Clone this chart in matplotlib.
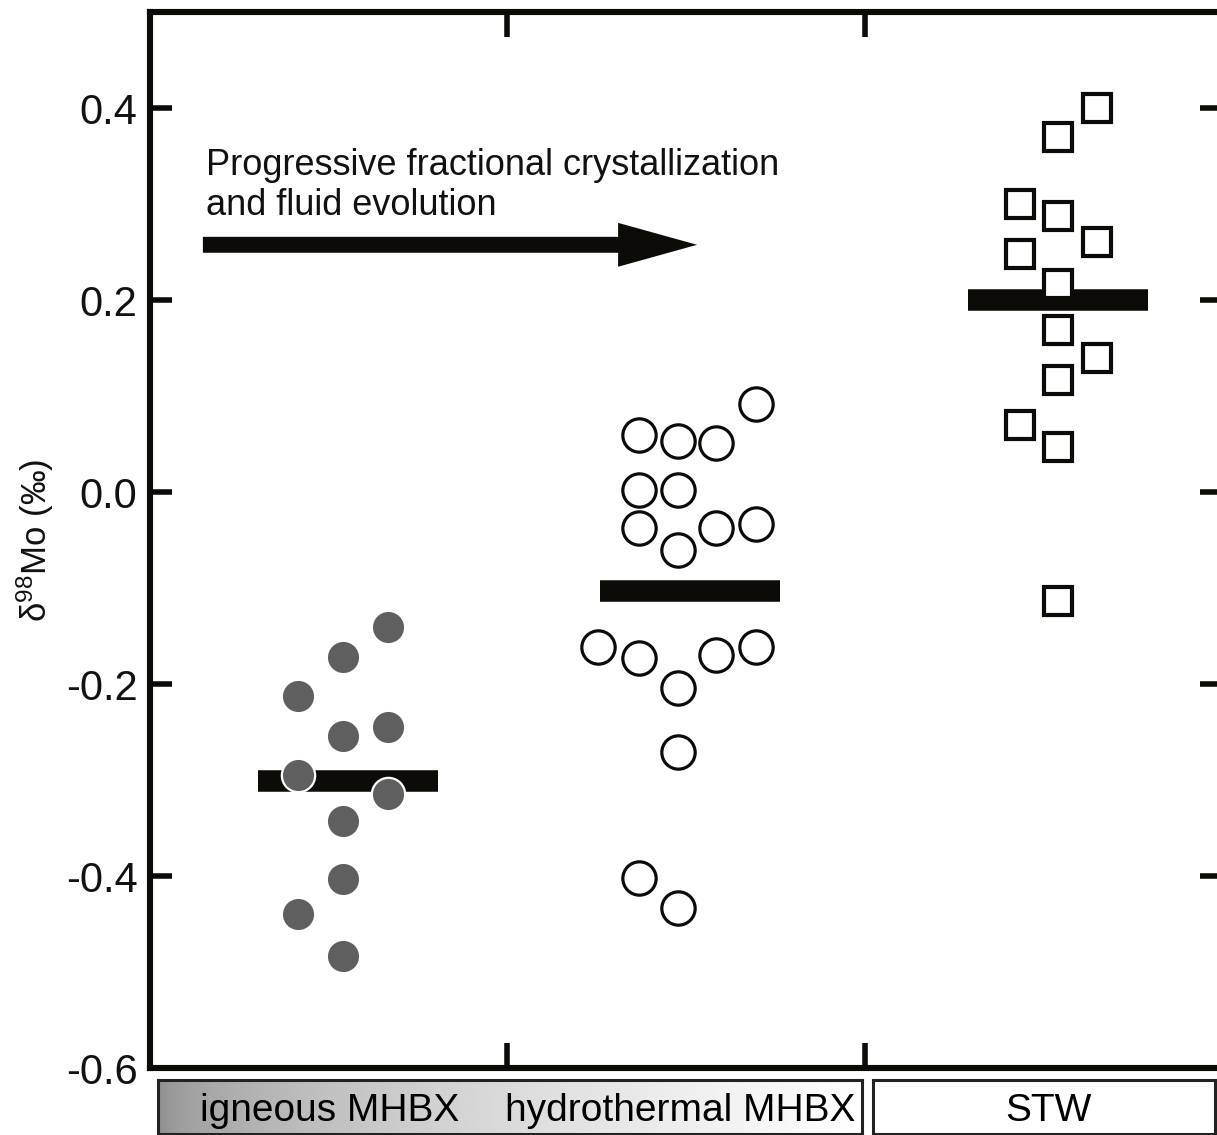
import numpy as np
import matplotlib
matplotlib.use("Agg")
import matplotlib.pyplot as plt

plt.rcParams['font.family'] = ['Liberation Sans Narrow', 'Liberation Sans', 'DejaVu Sans']
plt.rcParams['axes.unicode_minus'] = False
plt.rcParams['mathtext.default'] = 'regular'

# delta98Mo values per group (x = column within the group)
ign_x = [0.666, 0.540, 0.414, 0.540, 0.666, 0.414, 0.666, 0.540, 0.540, 0.414, 0.540]
ign_y = [-0.141, -0.172, -0.212, -0.254, -0.245, -0.295, -0.315, -0.343, -0.403, -0.440, -0.483]

hyd_x = [1.696, 1.369, 1.478, 1.584, 1.369, 1.478, 1.369, 1.478, 1.584, 1.696,
         1.254, 1.369, 1.478, 1.584, 1.696, 1.478, 1.369, 1.478]
hyd_y = [0.092, 0.059, 0.053, 0.051, 0.002, 0.002, -0.037, -0.060, -0.037, -0.033,
         -0.161, -0.173, -0.204, -0.170, -0.161, -0.271, -0.402, -0.433]

stw_x = [2.650, 2.541, 2.435, 2.541, 2.435, 2.650, 2.541, 2.541, 2.650, 2.541, 2.435, 2.541, 2.541]
stw_y = [0.400, 0.370, 0.300, 0.288, 0.248, 0.260, 0.217, 0.169, 0.140, 0.117, 0.070, 0.047, -0.114]

# group means
mean_center = [0.554, 1.510, 2.541]
mean_val = [-0.301, -0.103, 0.200]
mean_half = 0.252

groups = ['igneous MHBX', 'hydrothermal MHBX', 'STW']

fig = plt.figure(figsize=(12.17, 11.35), dpi=100)
ax = fig.add_axes([150 / 1217, 67 / 1135, 1072 / 1217, 1056 / 1135])

for c, v in zip(mean_center, mean_val):
    ax.hlines(v, c - mean_half, c + mean_half, colors='#0c0b07', linewidth=15.5,
              capstyle='butt', zorder=2)

ax.plot(ign_x, ign_y, 'o', ms=24, mfc='#5f5f5f', mec='white', mew=1.6, zorder=3)
ax.plot(hyd_x, hyd_y, 'o', ms=24, mfc='white', mec='#0c0b07', mew=2.3, zorder=3)
ax.plot(stw_x, stw_y, 's', ms=20.5, mfc='white', mec='#0c0b07', mew=3.0, zorder=3)

# evolution arrow
ax.arrow(0.148, 0.2575, 1.383, 0, width=0.0166, head_width=0.0457, head_length=0.221,
         length_includes_head=True, fc='#0c0b07', ec='none', zorder=2)
ax.text(0.157, 0.2887, 'Progressive fractional crystallization\nand fluid evolution',
        fontsize=26, va='baseline', ha='left', linespacing=1.18, color='#111111')

ax.set_xlim(0, 3)
ax.set_ylim(-0.6, 0.5)
ax.set_yticks([-0.6, -0.4, -0.2, 0.0, 0.2, 0.4])
ax.set_yticklabels(['-0.6', '-0.4', '-0.2', '0.0', '0.2', '0.4'])
ax.set_xticks([1, 2])
ax.set_xticklabels([])
ax.tick_params(axis='y', direction='in', length=16, width=4, labelsize=30, pad=9,
               right=True, colors='#0c0b07', labelcolor='#111111')
ax.tick_params(axis='x', direction='in', length=18, width=4, top=True, colors='#0c0b07')
for s in ax.spines.values():
    s.set_linewidth(4.4)
    s.set_color('#0c0b07')
ax.set_ylabel('δ$^{98}$Mo (‰)', fontsize=25, labelpad=7, color='#111111')

# group label boxes below the axis
b1 = fig.add_axes([158 / 1217, 1 / 1135, 704 / 1217, 54 / 1135])
t = np.linspace(0, 1, 400)
grad = 0.55 + 0.45 * t ** 0.55
b1.imshow(grad[np.newaxis, :], cmap='gray', vmin=0, vmax=1, aspect='auto',
          extent=[0, 1, 0, 1])
b1.set_xlim(0, 1)
b1.set_ylim(0, 1)
b1.text(172 / 704, 0.42, groups[0], fontsize=28, ha='center', va='center')
b1.text(522 / 704, 0.42, groups[1], fontsize=28, ha='center', va='center')

b2 = fig.add_axes([873 / 1217, 1 / 1135, 342 / 1217, 54 / 1135])
b2.set_xlim(0, 1)
b2.set_ylim(0, 1)
b2.text(175 / 342, 0.42, groups[2], fontsize=28, ha='center', va='center')

for b in (b1, b2):
    b.set_xticks([])
    b.set_yticks([])
    for s in b.spines.values():
        s.set_linewidth(2.2)
        s.set_color('#222222')

fig.savefig('out.png', dpi=100)
